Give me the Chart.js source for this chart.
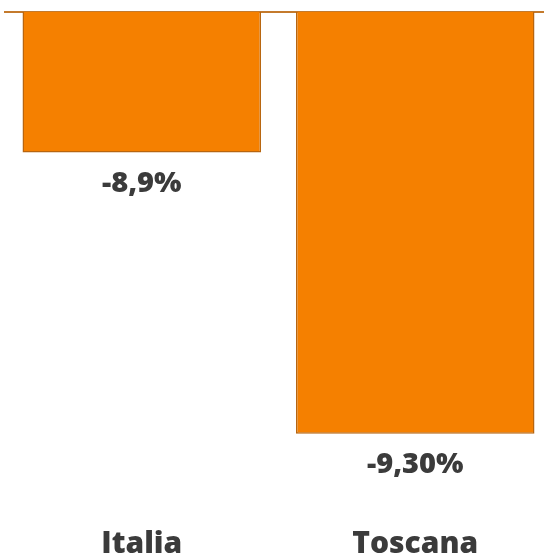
<!DOCTYPE html>
<html>
<head>
<meta charset="utf-8">
<script src="https://cdn.jsdelivr.net/npm/chart.js@4"></script>
<style>
  html, body { margin: 0; padding: 0; background: #fff; overflow: hidden; }
  #wrap { width: 552px; height: 560px; }
</style>
</head>
<body>
<div id="wrap"><canvas id="chart"></canvas></div>
<script>
const categories = ["Italia", "Toscana"];
const values = [-8.9, -9.3];
const valueLabels = ["-8,9%", "-9,30%"];

const barFill = '#F58000';
const barEdge = '#B8650F';
const textColor = '#3B3B3B';

// write the value text under each bar
const valueLabelPlugin = {
  id: 'valueLabels',
  afterDatasetsDraw(chart) {
    const ctx = chart.ctx;
    const meta = chart.getDatasetMeta(0);
    ctx.save();
    ctx.font = '800 29px "Open Sans"';
    ctx.fillStyle = textColor;
    ctx.textAlign = 'center';
    ctx.textBaseline = 'middle';
    meta.data.forEach((bar, i) => {
      ctx.fillText(valueLabels[i], bar.x, bar.y + 31);
    });
    ctx.restore();
  }
};

new Chart(document.getElementById('chart'), {
  type: 'bar',
  data: {
    labels: categories,
    datasets: [{
      data: values,
      backgroundColor: barFill,
      borderColor: barEdge,
      borderWidth: 1.5,
      borderSkipped: 'start',
      categoryPercentage: 1,
      barPercentage: 0.872
    }]
  },
  options: {
    responsive: true,
    maintainAspectRatio: false,
    animation: false,
    layout: { padding: { top: 12, left: 5, right: 0, bottom: 0 } },
    plugins: {
      legend: { display: false },
      tooltip: { enabled: false }
    },
    scales: {
      x: {
        grid: { display: false, drawTicks: false },
        border: { display: false },
        ticks: {
          padding: 22,
          color: textColor,
          font: { family: 'Open Sans', size: 30, weight: '800' }
        },
        afterFit(scale) { scale.height = 56; }
      },
      xTop: {
        type: 'category',
        position: 'top',
        grid: { display: false, drawTicks: false },
        ticks: { display: false },
        border: { display: true, color: '#C47A2C', width: 2 },
        afterFit(scale) { scale.height = 0; }
      },
      y: {
        display: false,
        min: -9.4,
        max: -8.7
      }
    }
  },
  plugins: [valueLabelPlugin]
});
</script>
</body>
</html>
